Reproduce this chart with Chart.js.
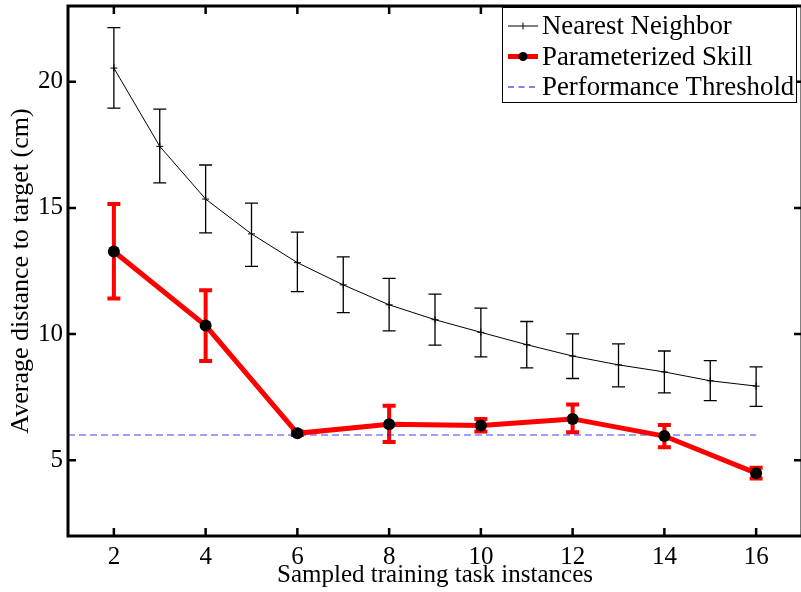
<!DOCTYPE html>
<html>
<head>
<meta charset="utf-8">
<script src="https://cdn.jsdelivr.net/npm/chart.js@4/dist/chart.umd.min.js"></script>
<style>
html,body{margin:0;padding:0;overflow:hidden;background:#fff;width:801px;height:592px;}
canvas{display:block;}
</style>
</head>
<body>
<canvas id="c" width="808" height="592"></canvas>
<script>
// ---- data ----
const xNN = [2,3,4,5,6,7,8,9,10,11,12,13,14,15,16];
const nnMean = [20.54,17.44,15.35,13.97,12.83,11.95,11.16,10.57,10.07,9.58,9.13,8.78,8.50,8.15,7.94];
const nnLow  = [18.95,15.99,14.01,12.68,11.68,10.85,10.13,9.56,9.10,8.66,8.24,7.91,7.67,7.36,7.14];
const nnHigh = [22.14,18.91,16.70,15.19,14.04,13.06,12.21,11.58,11.03,10.50,10.01,9.61,9.33,8.95,8.70];

const xPS = [2,4,6,8,10,12,14,16];
const psMean = [13.27,10.34,6.07,6.43,6.38,6.64,5.96,4.49];
const psLow  = [11.41,8.93,6.00,5.72,6.14,6.11,5.52,4.28];
const psHigh = [15.15,11.74,6.14,7.16,6.64,7.21,6.40,4.70];

const thresholdX = [1,16];
const thresholdY = [6,6];

const xTicks = [2,4,6,8,10,12,14,16];
const yTicks = [5,10,15,20];

const seriesLabels = ['Nearest Neighbor','Parameterized Skill','Performance Threshold'];
const xTitle = 'Sampled training task instances';
const yTitle = 'Average distance to target (cm)';

const FONT = '"Liberation Serif", "Times New Roman", serif';

const toPts = (xs, ys) => xs.map((x,i)=>({x:x,y:ys[i]}));

const errorBars = {
  id:'errorBars',
  beforeDatasetsDraw(chart){
    const ctx = chart.ctx, xs = chart.scales.x, ys = chart.scales.y;
    const draw = (xv, lo, hi, color, lw, cap) => {
      ctx.save();
      ctx.strokeStyle = color; ctx.lineWidth = lw; ctx.lineCap='butt';
      xv.forEach((x,i)=>{
        const px = xs.getPixelForValue(x);
        const pl = ys.getPixelForValue(lo[i]);
        const ph = ys.getPixelForValue(hi[i]);
        ctx.beginPath();
        ctx.moveTo(px, pl); ctx.lineTo(px, ph);
        ctx.moveTo(px-cap, pl); ctx.lineTo(px+cap, pl);
        ctx.moveTo(px-cap, ph); ctx.lineTo(px+cap, ph);
        ctx.stroke();
      });
      ctx.restore();
    };
    draw(xNN, nnLow, nnHigh, '#000', 1.3, 6.5);
    draw(xPS, psLow, psHigh, '#ff0000', 4, 6.5);
  }
};

const boxAndTicks = {
  id:'boxAndTicks',
  afterDraw(chart){
    const ctx = chart.ctx, a = chart.chartArea, xs = chart.scales.x, ys = chart.scales.y;
    ctx.save();
    ctx.strokeStyle = '#000';
    ctx.lineWidth = 2.5;
    xTicks.forEach(v=>{
      const px = xs.getPixelForValue(v);
      ctx.beginPath();
      ctx.moveTo(px, a.bottom); ctx.lineTo(px, a.bottom-8);
      ctx.moveTo(px, a.top); ctx.lineTo(px, a.top+8);
      ctx.stroke();
    });
    yTicks.forEach(v=>{
      const py = ys.getPixelForValue(v);
      ctx.beginPath();
      ctx.moveTo(a.left, py); ctx.lineTo(a.left+8, py);
      ctx.moveTo(a.right, py); ctx.lineTo(a.right-8, py);
      ctx.stroke();
    });
    ctx.lineWidth = 3;
    ctx.strokeRect(a.left, a.top, a.right-a.left, a.bottom-a.top);

    // legend
    const L = 502.5, T = 7.5, W = 294, H = 95;
    ctx.fillStyle = '#fff';
    ctx.fillRect(L, T, W, H);
    ctx.lineWidth = 1;
    ctx.strokeRect(L, T, W, H);
    const rows = [26, 56.5, 87];
    const x0 = 508, x1 = 538, xm = 523;
    // NN
    ctx.strokeStyle = '#000'; ctx.lineWidth = 1;
    ctx.beginPath(); ctx.moveTo(x0, rows[0]); ctx.lineTo(x1, rows[0]);
    ctx.moveTo(xm, rows[0]-3.5); ctx.lineTo(xm, rows[0]+3.5); ctx.stroke();
    // PS
    ctx.strokeStyle = '#ff0000'; ctx.lineWidth = 5;
    ctx.beginPath(); ctx.moveTo(x0, rows[1]); ctx.lineTo(x1, rows[1]); ctx.stroke();
    ctx.fillStyle = '#000';
    ctx.beginPath(); ctx.arc(xm, rows[1], 4.5, 0, Math.PI*2); ctx.fill();
    // threshold
    ctx.strokeStyle = '#0000ff'; ctx.lineWidth = 1; ctx.setLineDash([6,4.5]);
    ctx.beginPath(); ctx.moveTo(x0, rows[2]); ctx.lineTo(x1, rows[2]); ctx.stroke();
    ctx.setLineDash([]);
    ctx.fillStyle = '#000';
    ctx.font = '26.8px ' + FONT;
    ctx.textBaseline = 'middle';
    ctx.textAlign = 'left';
    seriesLabels.forEach((t,i)=>ctx.fillText(t, 542, rows[i]+1));
    ctx.restore();
  }
};

new Chart(document.getElementById('c'), {
  type:'line',
  data:{
    datasets:[
      {
        label: seriesLabels[0],
        data: toPts(xNN, nnMean),
        borderColor:'#000', borderWidth:1,
        pointStyle:'cross', pointRadius:3.5, pointBorderColor:'#000', pointBorderWidth:1,
        tension:0, order:1
      },
      {
        label: seriesLabels[1],
        data: toPts(xPS, psMean),
        borderColor:'#ff0000', borderWidth:5,
        pointStyle:'circle', pointRadius:6, pointBackgroundColor:'#000', pointBorderColor:'#000', pointBorderWidth:0,
        tension:0, order:0
      },
      {
        label: seriesLabels[2],
        data: toPts(thresholdX, thresholdY),
        borderColor:'rgba(0,0,255,0.5)', borderWidth:1.6, borderDash:[7,4],
        pointRadius:0, tension:0, order:2
      }
    ]
  },
  options:{
    responsive:false,
    devicePixelRatio:1,
    animation:false,
    layout:{padding:{top:2, right:4, left:0, bottom:0}},
    plugins:{legend:{display:false}, tooltip:{enabled:false}},
    scales:{
      x:{
        type:'linear', min:1, max:17,
        afterBuildTicks(s){ s.ticks = xTicks.map(v=>({value:v})); },
        afterFit(s){ s.height = 56; s.paddingLeft = 0; s.paddingRight = 0; },
        grid:{display:false, drawTicks:false},
        border:{display:false},
        ticks:{color:'#000', font:{family:FONT, size:25}, padding:6, maxRotation:0, autoSkip:false},
        title:{display:true, text:xTitle, color:'#000', font:{family:FONT, size:25}, padding:{top:0,bottom:2}}
      },
      y:{
        type:'linear', min:2, max:23,
        afterBuildTicks(s){ s.ticks = yTicks.map(v=>({value:v})); },
        afterFit(s){ s.width = 68; s.paddingTop = 0; s.paddingBottom = 0; },
        grid:{display:false, drawTicks:false},
        border:{display:false},
        ticks:{color:'#000', font:{family:FONT, size:25}, padding:5},
        title:{display:true, text:yTitle, color:'#000', font:{family:FONT, size:26}, padding:{top:6,bottom:0}}
      }
    }
  },
  plugins:[errorBars, boxAndTicks]
});
</script>
</body>
</html>
